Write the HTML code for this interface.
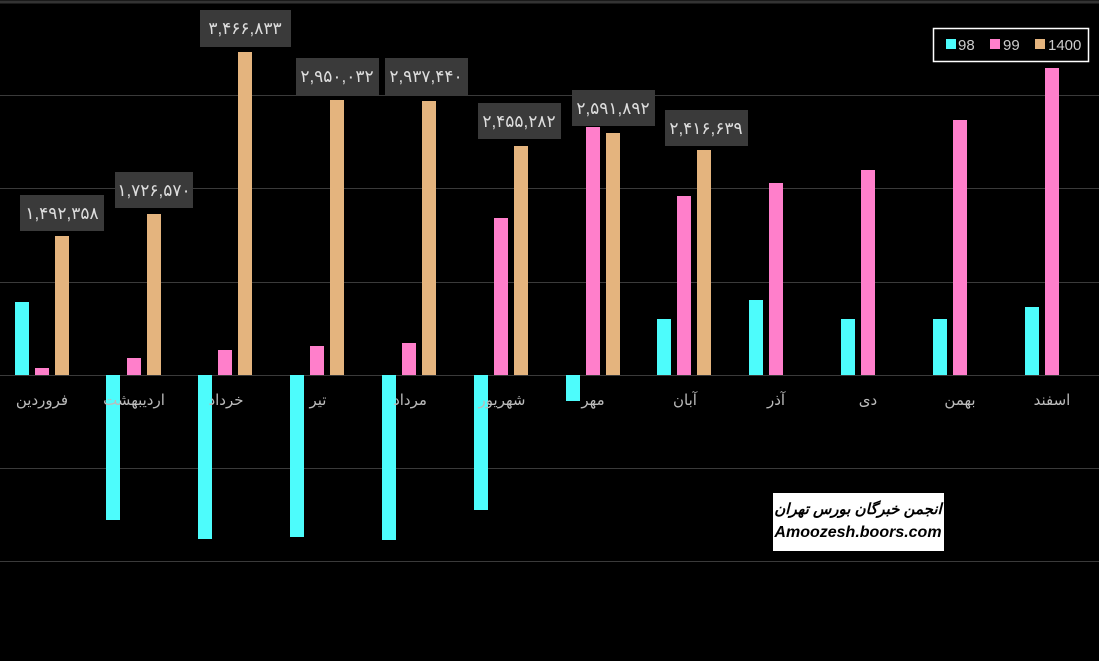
<!DOCTYPE html>
<html><head><meta charset="utf-8"><style>
body{margin:0;background:#000;}
svg text{font-family:"Liberation Sans","DejaVu Sans",sans-serif;}
</style></head><body>
<svg width="1099" height="656" xmlns="http://www.w3.org/2000/svg">
<rect width="1099" height="656" fill="#000"/>
<line x1="0" y1="2" x2="1099" y2="2" stroke="#333" stroke-width="3"/>
<g stroke="#3a3a3a" stroke-width="1">
<line x1="0" y1="95.5" x2="1099" y2="95.5"/><line x1="0" y1="188.5" x2="1099" y2="188.5"/>
<line x1="0" y1="282.5" x2="1099" y2="282.5"/><line x1="0" y1="375.5" x2="1099" y2="375.5"/>
<line x1="0" y1="468.5" x2="1099" y2="468.5"/><line x1="0" y1="561.5" x2="1099" y2="561.5"/>
</g>
<g fill="#4dfcfc">
<rect x="15" y="302" width="14" height="73"/>
<rect x="106" y="375" width="14" height="145"/>
<rect x="198" y="375" width="14" height="164"/>
<rect x="290" y="375" width="14" height="162"/>
<rect x="382" y="375" width="14" height="165"/>
<rect x="474" y="375" width="14" height="135"/>
<rect x="566" y="375" width="14" height="26"/>
<rect x="657" y="319" width="14" height="56"/>
<rect x="749" y="300" width="14" height="75"/>
<rect x="841" y="319" width="14" height="56"/>
<rect x="933" y="319" width="14" height="56"/>
<rect x="1025" y="307" width="14" height="68"/>
</g>
<g fill="#ff7fcb">
<rect x="35" y="368" width="14" height="7"/>
<rect x="127" y="358" width="14" height="17"/>
<rect x="218" y="350" width="14" height="25"/>
<rect x="310" y="346" width="14" height="29"/>
<rect x="402" y="343" width="14" height="32"/>
<rect x="494" y="218" width="14" height="157"/>
<rect x="586" y="127" width="14" height="248"/>
<rect x="677" y="196" width="14" height="179"/>
<rect x="769" y="183" width="14" height="192"/>
<rect x="861" y="170" width="14" height="205"/>
<rect x="953" y="120" width="14" height="255"/>
<rect x="1045" y="68" width="14" height="307"/>
</g>
<g fill="#e4b47e">
<rect x="55" y="236" width="14" height="139"/>
<rect x="147" y="214" width="14" height="161"/>
<rect x="238" y="52" width="14" height="323"/>
<rect x="330" y="100" width="14" height="275"/>
<rect x="422" y="101" width="14" height="274"/>
<rect x="514" y="146" width="14" height="229"/>
<rect x="606" y="133" width="14" height="242"/>
<rect x="697" y="150" width="14" height="225"/>
</g>
<g fill="#3a3a3a">
<rect x="20" y="195" width="84" height="36"/>
<rect x="115" y="172" width="78" height="36"/>
<rect x="200" y="10" width="91" height="37"/>
<rect x="296" y="58" width="83" height="37"/>
<rect x="385" y="58" width="83" height="37"/>
<rect x="478" y="103" width="83" height="36"/>
<rect x="572" y="90" width="83" height="36"/>
<rect x="665" y="110" width="83" height="36"/>
</g>
<g fill="#ddd" font-size="17" text-anchor="middle">
<text x="62" y="219">۱,۴۹۲,۳۵۸</text>
<text x="154" y="196">۱,۷۲۶,۵۷۰</text>
<text x="245" y="34">۳,۴۶۶,۸۳۳</text>
<text x="337" y="82">۲,۹۵۰,۰۳۲</text>
<text x="426" y="82">۲,۹۳۷,۴۴۰</text>
<text x="519" y="127">۲,۴۵۵,۲۸۲</text>
<text x="613" y="114">۲,۵۹۱,۸۹۲</text>
<text x="706" y="134">۲,۴۱۶,۶۳۹</text>
</g>
<g fill="#bbb" font-size="15" text-anchor="middle" font-family="'DejaVu Sans',sans-serif">
<text x="42" y="405">فروردین</text>
<text x="134" y="405">اردیبهشت</text>
<text x="226" y="405">خرداد</text>
<text x="318" y="405">تیر</text>
<text x="410" y="405">مرداد</text>
<text x="502" y="405">شهریور</text>
<text x="593" y="405">مهر</text>
<text x="685" y="405">آبان</text>
<text x="776" y="405">آذر</text>
<text x="868" y="405">دی</text>
<text x="960" y="405">بهمن</text>
<text x="1052" y="405">اسفند</text>
</g>
<rect x="933.5" y="28.5" width="155" height="33" fill="#000" stroke="#fff" stroke-width="1.5"/>
<rect x="946" y="39" width="10" height="10" fill="#4dfcfc"/>
<rect x="990" y="39" width="10" height="10" fill="#ff7fcb"/>
<rect x="1035" y="39" width="10" height="10" fill="#e4b47e"/>
<g fill="#ccc" font-size="15"><text x="958" y="50">98</text><text x="1003" y="50">99</text><text x="1048" y="50">1400</text></g>
<rect x="773" y="493" width="171" height="58" fill="#fff"/>
<g fill="#000" font-size="16" font-weight="bold" font-style="italic" text-anchor="middle">
<text x="858" y="514" font-family="'DejaVu Sans',sans-serif" font-size="15">انجمن خبرگان بورس تهران</text>
<text x="858" y="537">Amoozesh.boors.com</text>
</g>
</svg>
</body></html>
